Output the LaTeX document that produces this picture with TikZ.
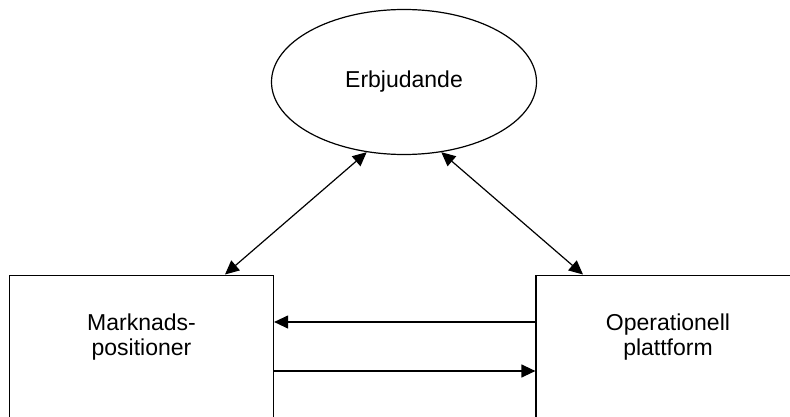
\documentclass[tikz,border=0pt]{standalone}
\usepackage{fontspec}
\setmainfont{Liberation Sans}
\usetikzlibrary{positioning, arrows.meta, shapes.geometric}

\begin{document}
\begin{tikzpicture}[
  x=1pt, y=1pt,
  oval/.style={ellipse, draw, line width=1.2pt, minimum width=265pt, minimum height=145pt,
               inner sep=0pt, font=\fontsize{23}{25.5}\selectfont},
  box/.style={draw, line width=1.2pt, minimum width=264pt, minimum height=220pt,
              inner sep=0pt, anchor=north},
  boxtext/.style={align=center, inner sep=0pt, font=\fontsize{23}{25.5}\selectfont},
  arr/.style={-{Triangle[length=14pt, width=13pt]}, line width=1.2pt},
  both/.style={{Triangle[length=14pt, width=13pt]}-{Triangle[length=14pt, width=13pt]}, line width=1.2pt},
]
  \clip (0,0) rectangle (790,416);

  \node[oval] (offer) at (404,334) {Erbjudande};
  \node[box] (mpos) at (141.5,141.5) {};
  \node[box] (opp)  at (668,141.5) {};

  \node[boxtext, below=39pt of mpos.north] (mtext) {Marknads-\\positioner};
  \node[boxtext, below=39pt of opp.north]  (otext) {Operationell\\plattform};

  \draw[both] ([xshift=83.5pt]mpos.north) -- (offer.242);
  \draw[both] (offer.298) -- ([xshift=-85pt]opp.north);
  \draw[arr] ([yshift=-47.5pt]opp.north west) -- ([yshift=-47.5pt]mpos.north east);
  \draw[arr] ([yshift=-96.5pt]mpos.north east) -- ([yshift=-96.5pt]opp.north west);
\end{tikzpicture}
\end{document}
